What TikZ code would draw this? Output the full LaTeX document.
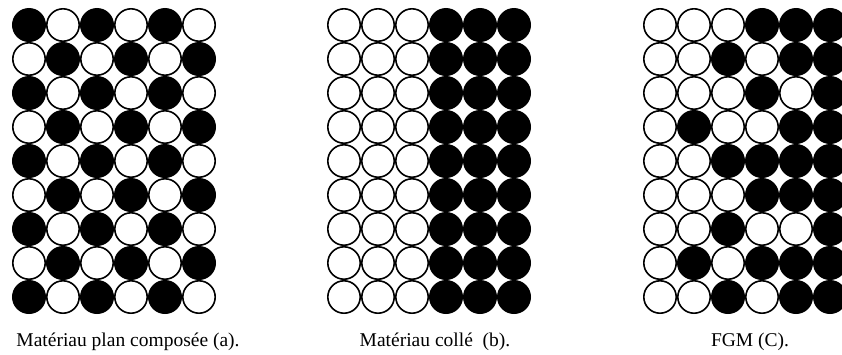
\documentclass[tikz,border=0pt]{standalone}
\usepackage{fontspec}
\setmainfont{Liberation Serif}
\usetikzlibrary{positioning}
\tikzset{
  ball0/.style={draw=black,fill=white,line width=1.6pt},
  ball1/.style={draw=black,fill=black,line width=1.6pt},
  legend/.style={font=\fontsize{19.5}{22}\selectfont,anchor=base,inner sep=0pt},
}
\newcommand{\ballr}{16.2}
\newcommand{\pitch}{34}

\begin{document}
\begin{tikzpicture}[x=1pt,y=-1pt]
  \useasboundingbox (0,0) rectangle (842,354);
  \clip (0,0) rectangle (842,354);

  % (a) alternating layers
  \foreach \r in {1,...,9} {
    \foreach \c in {1,...,6} {
      \pgfmathtruncatemacro\v{mod(\r+\c+1,2)}
      \draw[ball\v] (29+\pitch*\c-\pitch, 25+\pitch*\r-\pitch) circle (\ballr);
    }
  }

  % (b) two bonded halves
  \foreach \r in {1,...,9} {
    \foreach \c in {1,...,6} {
      \pgfmathtruncatemacro\v{\c>3}
      \draw[ball\v] (344+\pitch*\c-\pitch, 25+\pitch*\r-\pitch) circle (\ballr);
    }
  }

  % (c) graded
  \foreach \row [count=\r] in {{0,0,0,1,1,1},{0,0,1,0,1,1},{0,0,0,1,0,1},
      {0,1,0,0,1,1},{0,0,1,1,1,1},{0,0,0,1,1,1},{0,0,1,0,0,1},
      {0,1,0,1,1,1},{0,0,1,0,1,1}} {
    \foreach \v [count=\c] in \row {
      \draw[ball\v] (660+\pitch*\c-\pitch, 25+\pitch*\r-\pitch) circle (\ballr);
    }
  }

  \node[legend] (capA) at (128,346) {Matériau plan composée (a).};
  \node[legend] (capB) at (435,346) {Matériau collé\ \ (b).};
  \node[legend] (capC) at (750,346) {FGM (C).};
\end{tikzpicture}
\end{document}
